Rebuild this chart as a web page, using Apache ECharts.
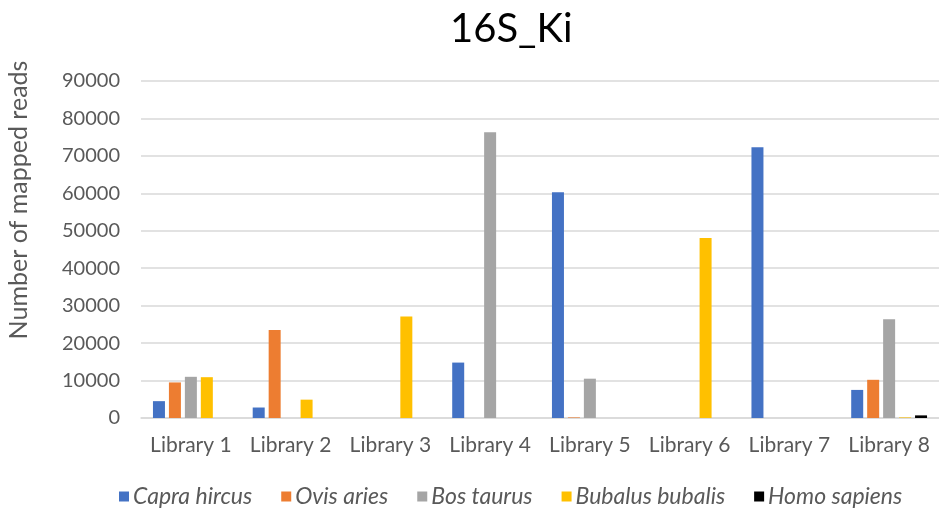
<!DOCTYPE html>
<html>
<head>
<meta charset="utf-8">
<script src="https://cdn.jsdelivr.net/npm/echarts@6/dist/echarts.min.js"></script>
<style>
  html, body { margin: 0; padding: 0; background: #ffffff; }
  #chart { width: 939px; height: 513px; }
</style>
</head>
<body>
<div id="chart"></div>
<script>
// Libraries on the x axis
const categories = ['Library 1', 'Library 2', 'Library 3', 'Library 4', 'Library 5', 'Library 6', 'Library 7', 'Library 8'];

// Mapped reads per species
const capraHircus    = [4500, 2800, 0, 14800, 60300, 0, 72300, 7500];
const ovisAries      = [9500, 23500, 0, 0, 150, 0, 0, 10200];
const bosTaurus      = [11000, 0, 0, 76300, 10500, 0, 0, 26400];
const bubalusBubalis = [10900, 4900, 27100, 0, 0, 48100, 0, 150];
const homoSapiens    = [0, 0, 0, 0, 0, 0, 0, 700];

const seriesNames  = ['Capra hircus', 'Ovis aries', 'Bos taurus', 'Bubalus bubalis', 'Homo sapiens'];
const seriesValues = [capraHircus, ovisAries, bosTaurus, bubalusBubalis, homoSapiens];
const seriesColors = ['#4472C4', '#ED7D31', '#A5A5A5', '#FFC000', '#000000'];

// Y axis ticks
const yMin = 0, yMax = 90000, yStep = 10000;

const font = 'Lato, "Open Sans", sans-serif';

const chart = echarts.init(document.getElementById('chart'), null, { renderer: 'canvas' });

chart.setOption({
  animation: false,
  backgroundColor: '#ffffff',
  title: {
    text: '16S_Ki',
    left: 445,
    top: 4,
    textStyle: { fontFamily: font, fontSize: 40, fontWeight: 'normal', color: '#000000' }
  },
  graphic: [{
    type: 'text',
    x: 19,
    y: 200,
    rotation: Math.PI / 2,
    style: {
      text: 'Number of mapped reads',
      fontFamily: font,
      fontSize: 25,
      fill: '#595959',
      align: 'center',
      verticalAlign: 'middle'
    }
  }],
  legend: {
    bottom: 0,
    left: 114,
    itemWidth: 10,
    itemHeight: 10,
    itemGap: 29,
    icon: 'rect',
    textStyle: { fontFamily: font, fontSize: 23, fontStyle: 'italic', color: '#595959', padding: [0, 0, 0, -1] },
    data: seriesNames
  },
  grid: { left: 141, top: 81, width: 800, bottom: 95, containLabel: false },
  xAxis: {
    type: 'category',
    data: categories,
    axisLine: { show: true, lineStyle: { color: '#d9d9d9', width: 1.5 } },
    axisTick: { show: false },
    axisLabel: { fontFamily: font, fontSize: 21, color: '#595959', margin: 17, interval: 0 }
  },
  yAxis: {
    type: 'value',
    min: yMin,
    max: yMax,
    interval: yStep,
    axisLine: { show: false },
    axisTick: { show: false },
    splitLine: { lineStyle: { color: '#d9d9d9', width: 1.5 } },
    axisLabel: {
      fontFamily: font, fontSize: 20, color: '#595959', margin: 21,
      formatter: v => String(v)
    }
  },
  series: seriesNames.map((name, i) => ({
    name,
    type: 'bar',
    data: seriesValues[i],
    barWidth: 12,
    barGap: '33%',
    itemStyle: { color: seriesColors[i] }
  }))
});
</script>
</body>
</html>
